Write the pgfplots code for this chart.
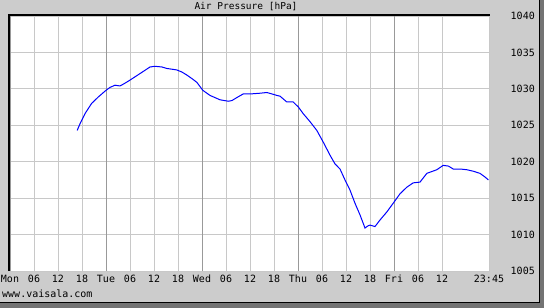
\documentclass[border=0pt]{standalone}
\usepackage{pgfplots}
\pgfplotsset{compat=1.18}
\usepackage{fontspec}
\setmainfont{DejaVu Sans Mono}
\definecolor{bg}{HTML}{CCCCCC}
\definecolor{minorgrid}{HTML}{C8C8C8}
\definecolor{daygrid}{HTML}{999999}
\begin{document}
\begin{tikzpicture}
\useasboundingbox (0pt,0pt) rectangle (544pt,308pt);
\fill[black!55] (0pt,0pt) rectangle (544pt,308pt);
\fill[bg] (0pt,6pt) rectangle (539pt,308pt);
\draw[black, line width=1pt] (539pt,308pt) -- (539pt,5.5pt) -- (0pt,5.5pt);
\begin{axis}[
  at={(10pt,37pt)}, anchor=south west,
  scale only axis, width=480pt, height=255pt,
  xmin=0, xmax=120, ymin=1005, ymax=1040,
  axis background/.style={fill=white},
  axis line style={draw=none},
  major tick length=0pt, minor tick length=0pt,
  xtick={0,6,12,18,24,30,36,42,48,54,60,66,72,78,84,90,96,102,108,119.75},
  xticklabels={Mon,06,12,18,Tue,06,12,18,Wed,06,12,18,Thu,06,12,18,Fri,06,12,23:45},
  extra x ticks={0,24,48,72,96},
  extra x tick labels={},
  extra x tick style={grid style={daygrid, line width=1pt}},
  ytick={1005,1010,1015,1020,1025,1030,1035,1040},
  yticklabels={1005,1010,1015,1020,1025,1030,1035,1040},
  yticklabel pos=right,
  /pgf/number format/assume math mode=true,
  xmajorgrids, ymajorgrids,
  grid style={minorgrid, line width=1pt},
  tick label style={font=\fontsize{10}{12}\selectfont, inner sep=0pt},
  xticklabel style={anchor=north, yshift=-4pt},
  yticklabel style={anchor=east, xshift=45pt},
]
\addplot[blue, line width=1pt] coordinates {
(16.8,1024.3) (17.5,1025.2) (18.75,1026.6) (20.4,1028.0) (22.1,1028.9)
(24,1029.8) (25,1030.2) (26.25,1030.5) (27.5,1030.4) (28.5,1030.7)
(30,1031.2) (32.5,1032.1) (35,1033.0) (36.25,1033.1) (38,1033.0)
(39.2,1032.8) (41.7,1032.6) (43,1032.3) (44.2,1031.9) (45.5,1031.4)
(46.7,1030.9) (48.2,1029.8) (50,1029.1) (52.5,1028.5) (54.6,1028.3)
(55.5,1028.4) (56.7,1028.8) (58.3,1029.3) (60,1029.3) (62.5,1029.4)
(64.2,1029.5) (65.5,1029.3) (66.7,1029.1) (67.5,1029.0) (69.2,1028.2)
(70.8,1028.2) (72.1,1027.5) (73.3,1026.6) (75,1025.5) (76.7,1024.3)
(78.3,1022.7) (80,1020.9) (81.25,1019.7) (82.5,1019.0) (83.75,1017.5)
(85,1016.1) (86.25,1014.3) (87.5,1012.7) (88.75,1010.9) (89.5,1011.2)
(90,1011.3) (91.25,1011.1) (92.5,1012.0) (94.2,1013.1) (95.8,1014.3)
(97.5,1015.6) (99.2,1016.5) (100.8,1017.1) (102.5,1017.2) (104.2,1018.4)
(106.7,1018.9) (108.3,1019.5) (109.6,1019.4) (110.8,1019.0) (112.5,1019.0)
(114.2,1018.9) (115.8,1018.7) (117.5,1018.4) (118.75,1017.9) (119.6,1017.5)
};
\end{axis}
\draw[black, line width=2pt] (9pt,37pt) -- (9pt,293pt) -- (490pt,293pt);
\node[font=\fontsize{9.5}{11}\selectfont, inner sep=0pt] at (246pt,301pt) {Air Pressure [hPa]};
\node[font=\fontsize{10}{12}\selectfont, anchor=west, inner sep=0pt] at (2pt,14pt) {www.vaisala.com};
\end{tikzpicture}
\end{document}
